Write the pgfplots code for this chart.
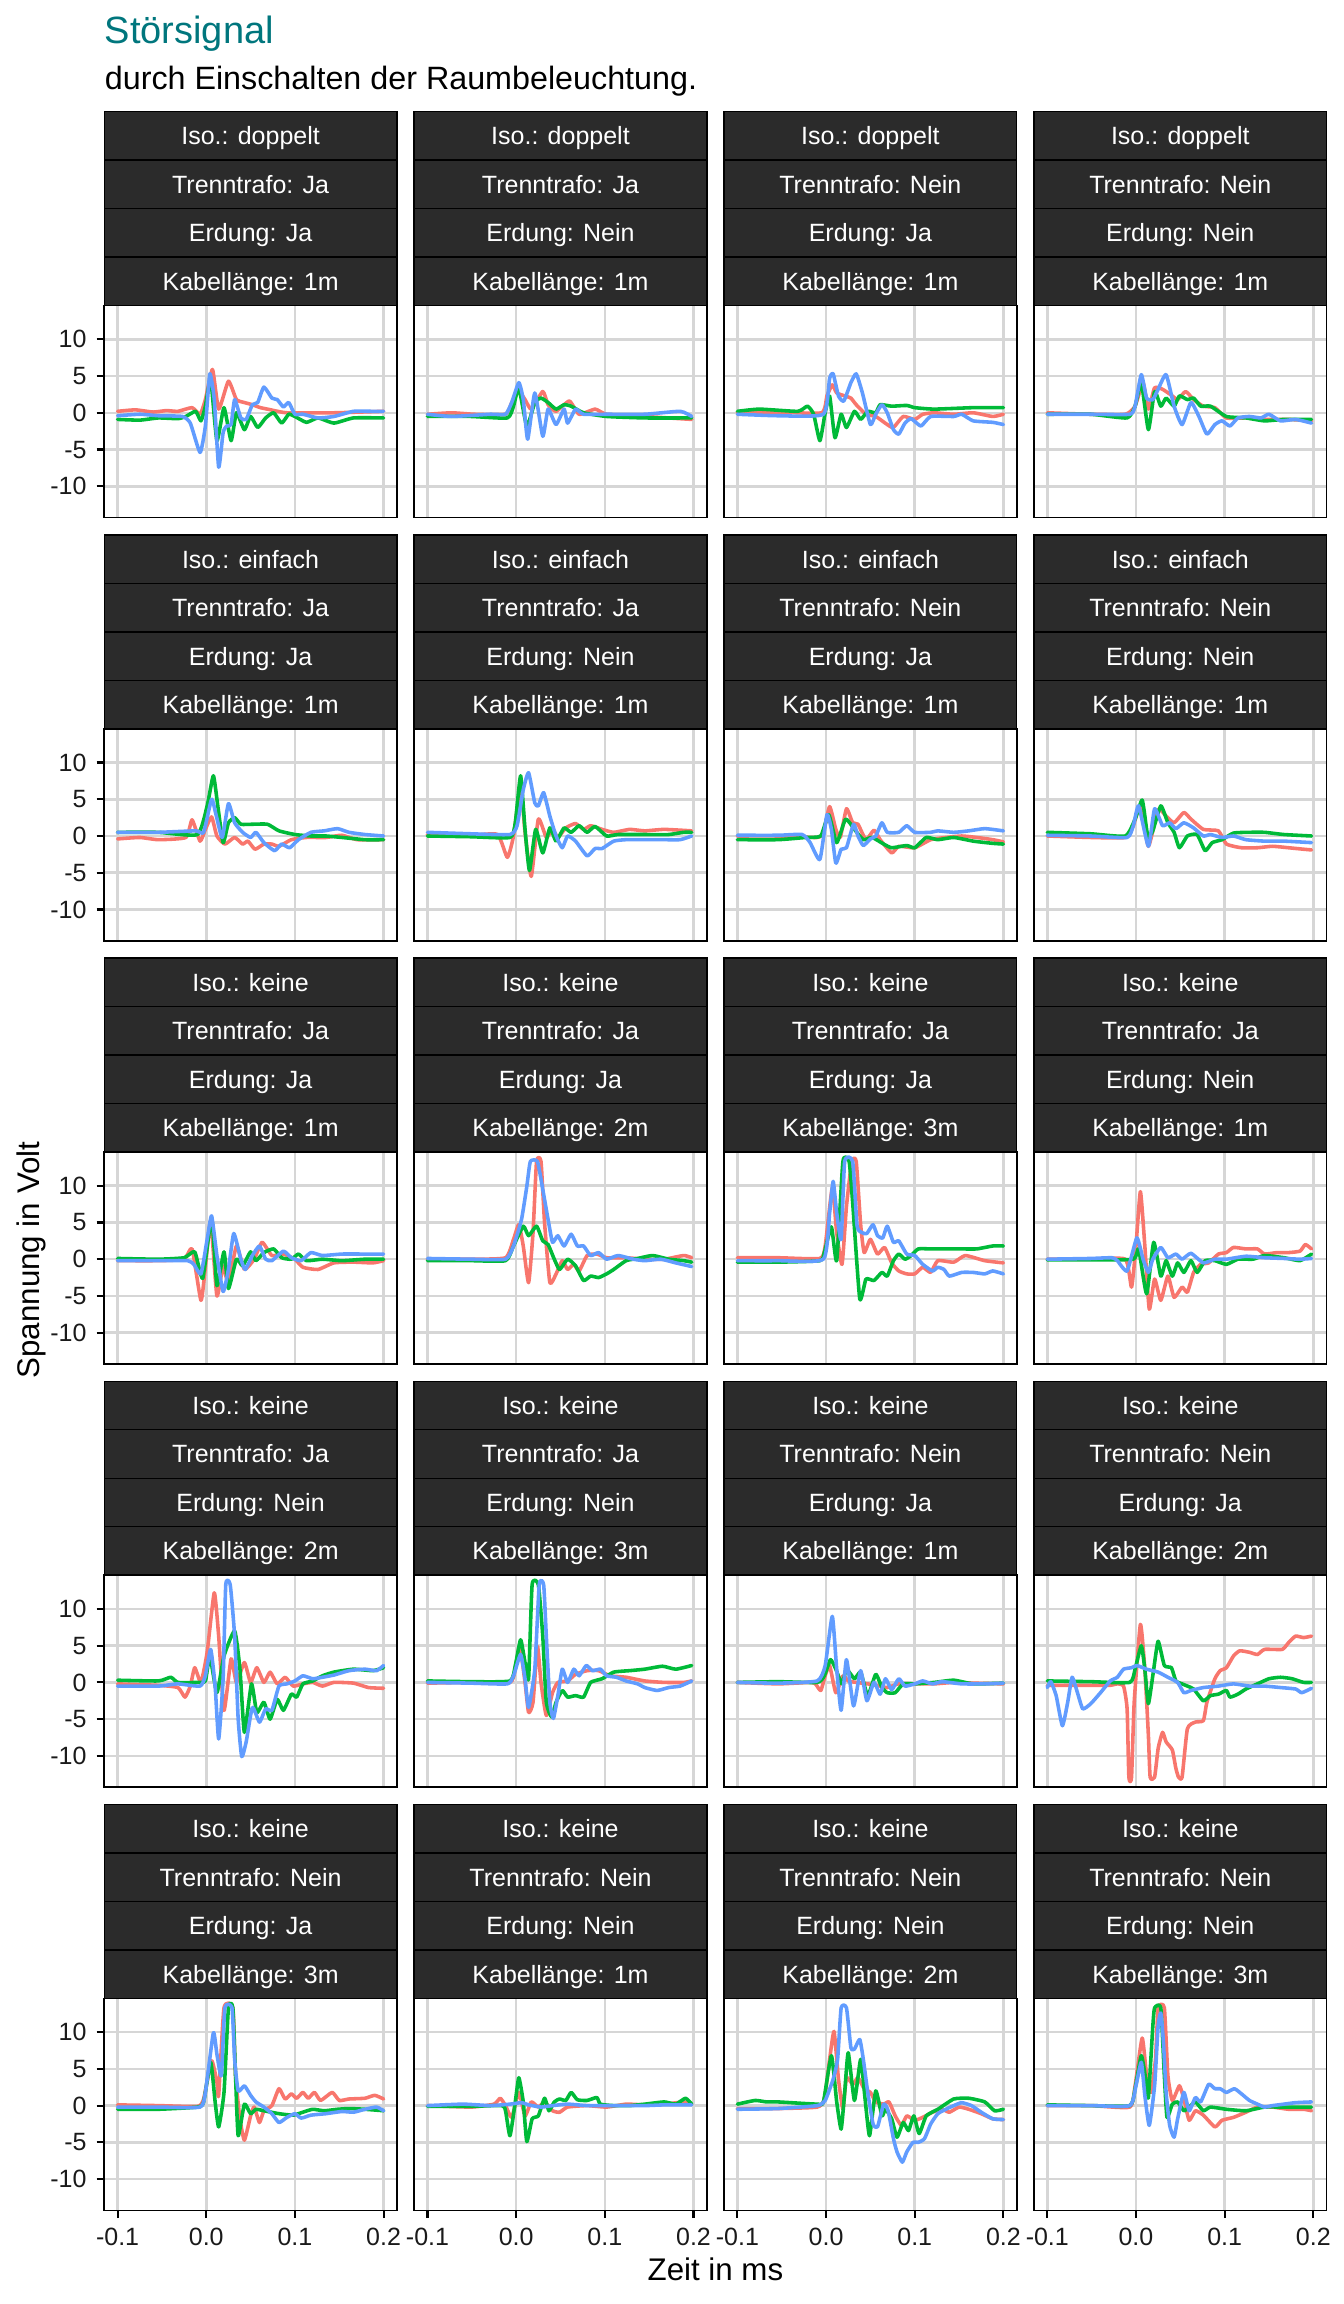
\documentclass[border=0pt]{standalone}
\usepackage{fontspec}
\setmainfont{Liberation Sans}
\usepackage{pgfplots}
\pgfplotsset{compat=1.18}
\definecolor{cr}{HTML}{F8766D}
\definecolor{cg}{HTML}{00BA38}
\definecolor{cb}{HTML}{619CFF}
\definecolor{stripc}{HTML}{2B2B2B}
\definecolor{gridc}{HTML}{D6D6D6}
\definecolor{titlec}{HTML}{00767D}
\definecolor{tickc}{HTML}{1A1A1A}
\pgfplotsset{
 panel/.style={
   scale only axis, width=102.41pt, height=74.2pt, anchor=north west,
   xmin=-0.115, xmax=0.215, ymin=-14.27, ymax=14.59,
   xtick={-0.1,0,0.1,0.2}, ytick={-10,-5,0,5,10},
   xticklabels={}, yticklabels={},
   grid=major, major grid style={line width=0.9pt, draw=gridc},
   axis line style={line width=0.6pt, draw=black},
   tick align=outside, tick pos=left, major tick length=2.7pt,
   tick style={line width=0.75pt, draw=black},
   ticklabel style={font=\fontsize{8.75}{10}\selectfont, text=tickc},
   clip=true,
   every axis plot/.append style={line width=1.25pt, line join=round, line cap=round, mark=none, smooth, tension=0.3},
 },
 nox/.style={xtick style={draw=none}},
 noy/.style={ytick style={draw=none}},
 xl/.style={xticklabels={-0.1,0.0,0.1,0.2}},
 yl/.style={yticklabels={-10,-5,0,5,10}},
}
\newcommand{\strip}[3]{%
  \filldraw[fill=stripc, draw=black, line width=0.5pt] (#1pt,-#2pt) rectangle ++(102.41pt,-16.975pt);
  \node[text=white, font=\fontsize{8.75}{10}\selectfont, inner sep=0pt, text height=6.27pt, text depth=0pt, anchor=center] at ({#1pt+51.205pt},{-#2pt-8.49pt}) {#3};
}
\newcommand{\strips}[6]{%
 \pgfmathsetmacro\sa{#2}\pgfmathsetmacro\sb{#2+16.975}\pgfmathsetmacro\sc{#2+33.95}\pgfmathsetmacro\sd{#2+50.925}%
 \strip{#1}{\sa}{#3}\strip{#1}{\sb}{#4}\strip{#1}{\sc}{#5}\strip{#1}{\sd}{#6}}
\begin{document}
\begin{tikzpicture}
\useasboundingbox (0,0) rectangle (470.4pt,-806.4pt);
\node[anchor=base west, inner sep=0pt, text=titlec, font=\fontsize{13.3}{15}\selectfont] at (36.5pt,-15.2pt) {Störsignal};
\node[anchor=base west, inner sep=0pt, font=\fontsize{11.3}{13}\selectfont] at (36.5pt,-31.3pt) {durch Einschalten der Raumbeleuchtung.};
\node[anchor=base, inner sep=0pt, font=\fontsize{10.95}{13}\selectfont] at (250.4pt,-798pt) {Zeit in ms};
\node[anchor=base, rotate=90, inner sep=0pt, font=\fontsize{10.95}{13}\selectfont] at (13.9pt,-441pt) {Spannung in Volt};

% ---------------- strips ----------------
\strips{36.505}{39.06}{Iso.: doppelt}{Trenntrafo: Ja}{Erdung: Ja}{Kabellänge: 1m}
\strips{144.97}{39.06}{Iso.: doppelt}{Trenntrafo: Ja}{Erdung: Nein}{Kabellänge: 1m}
\strips{253.435}{39.06}{Iso.: doppelt}{Trenntrafo: Nein}{Erdung: Ja}{Kabellänge: 1m}
\strips{361.9}{39.06}{Iso.: doppelt}{Trenntrafo: Nein}{Erdung: Nein}{Kabellänge: 1m}
\strips{36.505}{187.18}{Iso.: einfach}{Trenntrafo: Ja}{Erdung: Ja}{Kabellänge: 1m}
\strips{144.97}{187.18}{Iso.: einfach}{Trenntrafo: Ja}{Erdung: Nein}{Kabellänge: 1m}
\strips{253.435}{187.18}{Iso.: einfach}{Trenntrafo: Nein}{Erdung: Ja}{Kabellänge: 1m}
\strips{361.9}{187.18}{Iso.: einfach}{Trenntrafo: Nein}{Erdung: Nein}{Kabellänge: 1m}
\strips{36.505}{335.3}{Iso.: keine}{Trenntrafo: Ja}{Erdung: Ja}{Kabellänge: 1m}
\strips{144.97}{335.3}{Iso.: keine}{Trenntrafo: Ja}{Erdung: Ja}{Kabellänge: 2m}
\strips{253.435}{335.3}{Iso.: keine}{Trenntrafo: Ja}{Erdung: Ja}{Kabellänge: 3m}
\strips{361.9}{335.3}{Iso.: keine}{Trenntrafo: Ja}{Erdung: Nein}{Kabellänge: 1m}
\strips{36.505}{483.42}{Iso.: keine}{Trenntrafo: Ja}{Erdung: Nein}{Kabellänge: 2m}
\strips{144.97}{483.42}{Iso.: keine}{Trenntrafo: Ja}{Erdung: Nein}{Kabellänge: 3m}
\strips{253.435}{483.42}{Iso.: keine}{Trenntrafo: Nein}{Erdung: Ja}{Kabellänge: 1m}
\strips{361.9}{483.42}{Iso.: keine}{Trenntrafo: Nein}{Erdung: Ja}{Kabellänge: 2m}
\strips{36.505}{631.54}{Iso.: keine}{Trenntrafo: Nein}{Erdung: Ja}{Kabellänge: 3m}
\strips{144.97}{631.54}{Iso.: keine}{Trenntrafo: Nein}{Erdung: Nein}{Kabellänge: 1m}
\strips{253.435}{631.54}{Iso.: keine}{Trenntrafo: Nein}{Erdung: Nein}{Kabellänge: 2m}
\strips{361.9}{631.54}{Iso.: keine}{Trenntrafo: Nein}{Erdung: Nein}{Kabellänge: 3m}

% ================= ROW 1 =================
\begin{axis}[panel, at={(36.505pt,-106.96pt)}, nox, yl]
\addplot[cr] coordinates {(-0.1,0.2) (-0.08,0.4) (-0.06,0.1) (-0.045,0.3) (-0.032,0.2) (-0.016,0.7) (-0.007,-0.2) (-0.001,1.8) (0.007,5.9) (0.014,0.5) (0.025,4.3) (0.034,1.8) (0.043,1.4) (0.052,1.1) (0.061,0.7) (0.069,0.5) (0.091,0) (0.144,0) (0.2,0.2)};
\addplot[cg] coordinates {(-0.1,-0.9) (-0.075,-1.0) (-0.054,-0.7) (-0.032,-0.8) (-0.023,-0.5) (-0.012,0.2) (-0.006,-1.1) (-0.001,0.9) (0.005,4.5) (0.012,-3.8) (0.020,0.7) (0.028,-3.8) (0.034,0) (0.043,-2.3) (0.050,-0.5) (0.058,-2.0) (0.067,-0.7) (0.076,0) (0.085,-1.4) (0.093,-0.2) (0.1,-0.5) (0.113,-1.3) (0.126,-0.7) (0.144,-1.4) (0.166,-0.7) (0.2,-0.7)};
\addplot[cb] coordinates {(-0.1,-0.4) (-0.075,-0.2) (-0.054,-0.4) (-0.027,-0.5) (-0.018,-1.4) (-0.007,-5.4) (-0.001,-1.8) (0.004,5.3) (0.009,1.8) (0.014,-7.4) (0.019,-2.7) (0.023,-1.8) (0.028,-1.6) (0.032,1.8) (0.039,-0.7) (0.045,-0.9) (0.052,1.1) (0.058,1.4) (0.065,3.5) (0.074,2.0) (0.080,1.8) (0.087,0.8) (0.093,1.4) (0.1,-0.2) (0.109,-0.2) (0.126,-0.7) (0.144,-0.5) (0.166,0.2) (0.188,0.2) (0.2,0.2)};
\end{axis}
\begin{axis}[panel, at={(144.97pt,-106.96pt)}, nox, noy]
\addplot[cr] coordinates {(-0.1,-0.2) (-0.073,0) (-0.047,-0.2) (-0.012,-0.2) (-0.005,1.4) (0.003,2.9) (0.010,1.8) (0.017,0.5) (0.030,2.9) (0.036,1.1) (0.045,0.2) (0.060,1.6) (0.071,-0.2) (0.089,0.5) (0.102,-0.2) (0.145,-0.5) (0.198,-0.9)};
\addplot[cg] coordinates {(-0.1,-0.5) (-0.051,-0.5) (-0.010,-0.7) (-0.003,0.9) (0.003,3.4) (0.012,-1.8) (0.021,1.4) (0.028,2.0) (0.036,1.4) (0.045,0.5) (0.054,1.1) (0.062,0.9) (0.076,0) (0.102,-0.5) (0.145,-0.7) (0.198,-0.7)};
\addplot[cb] coordinates {(-0.1,-0.2) (-0.073,-0.5) (-0.029,-0.2) (-0.012,-0.2) (-0.005,1.4) (0.003,4.1) (0.008,1.8) (0.013,-3.6) (0.021,2.7) (0.030,-3.2) (0.036,0.5) (0.045,-1.6) (0.054,0.5) (0.058,-1.4) (0.067,0.5) (0.076,-0.2) (0.102,-0.2) (0.145,-0.2) (0.185,0.2) (0.198,-0.5)};
\end{axis}
\begin{axis}[panel, at={(253.435pt,-106.96pt)}, nox, noy]
\addplot[cr] coordinates {(-0.1,0) (-0.054,0.1) (-0.005,0) (0.001,2.3) (0.007,3.8) (0.012,2.7) (0.021,2.3) (0.028,2.0) (0.034,1.1) (0.045,-0.2) (0.056,-0.5) (0.069,-1.6) (0.076,-2.0) (0.087,-0.5) (0.1,-0.9) (0.109,-0.2) (0.122,0) (0.144,-0.2) (0.166,0) (0.188,-0.5) (0.2,-0.2)};
\addplot[cg] coordinates {(-0.1,0.2) (-0.075,0.5) (-0.032,0.2) (-0.021,0.9) (-0.014,-0.2) (-0.007,-3.8) (-0.001,0) (0.004,2.3) (0.010,-3.4) (0.017,-0.2) (0.023,-2.0) (0.032,0.2) (0.039,-0.9) (0.047,0.2) (0.056,0) (0.061,1.1) (0.074,0.9) (0.091,1.0) (0.1,0.7) (0.122,0.5) (0.166,0.7) (0.2,0.7)};
\addplot[cb] coordinates {(-0.1,-0.2) (-0.054,-0.4) (-0.003,-0.2) (0.004,4.7) (0.008,5.3) (0.014,2.3) (0.020,1.6) (0.028,4.1) (0.034,5.3) (0.041,2.7) (0.050,-1.6) (0.056,-0.2) (0.063,1.1) (0.069,0) (0.076,-2.3) (0.082,-2.9) (0.089,-1.4) (0.096,-0.8) (0.107,-1.8) (0.118,-0.5) (0.144,-0.5) (0.153,-0.2) (0.166,-1.1) (0.188,-1.3) (0.2,-1.6)};
\end{axis}
\begin{axis}[panel, at={(361.9pt,-106.96pt)}, nox, noy]
\addplot[cr] coordinates {(-0.1,0) (-0.051,-0.2) (-0.012,-0.2) (-0.001,0.9) (0.008,4.1) (0.014,0.5) (0.021,3.4) (0.030,3.2) (0.041,2.3) (0.047,1.8) (0.056,2.9) (0.065,1.8) (0.076,0.9) (0.089,0.7) (0.102,-0.7) (0.124,-0.7) (0.145,-0.9) (0.172,-0.9) (0.198,-1.1)};
\addplot[cg] coordinates {(-0.1,-0.2) (-0.051,-0.2) (-0.010,-0.7) (-0.001,0.9) (0.006,4.1) (0.014,-2.3) (0.021,2.9) (0.028,0.9) (0.034,2.0) (0.043,0.9) (0.049,2.3) (0.058,1.8) (0.065,2.0) (0.073,0.9) (0.084,0.9) (0.102,-0.5) (0.124,-0.7) (0.145,-1.1) (0.167,-0.9) (0.198,-0.9)};
\addplot[cb] coordinates {(-0.1,-0.2) (-0.051,-0.2) (-0.007,-0.2) (-0.001,0.9) (0.006,5.2) (0.012,2.0) (0.019,1.8) (0.025,3.2) (0.034,5.2) (0.043,0.9) (0.052,-1.6) (0.062,1.4) (0.071,-0.5) (0.080,-2.9) (0.089,-1.6) (0.097,-1.1) (0.106,-1.8) (0.115,-0.7) (0.128,-0.5) (0.141,-0.7) (0.150,-0.2) (0.163,-1.1) (0.180,-0.9) (0.198,-1.4)};
\end{axis}

% ================= ROW 2 =================
\begin{axis}[panel, at={(36.505pt,-255.08pt)}, nox, yl]
\addplot[cr] coordinates {(-0.1,-0.4) (-0.075,-0.2) (-0.054,-0.5) (-0.023,-0.2) (-0.016,2.2) (-0.007,-0.7) (-0.001,0.9) (0.006,2.6) (0.012,0) (0.021,-1.1) (0.032,-0.2) (0.041,-1.1) (0.047,-0.7) (0.055,-1.8) (0.065,-1.1) (0.074,-1.1) (0.082,-1.4) (0.096,-0.5) (0.113,-0.2) (0.135,-0.2) (0.153,0.1) (0.170,-0.5) (0.2,-0.5)};
\addplot[cg] coordinates {(-0.1,0.5) (-0.054,0.5) (-0.010,0.2) (0.001,4.1) (0.008,8.2) (0.013,4.1) (0.019,-0.9) (0.025,1.8) (0.032,2.5) (0.039,1.6) (0.052,1.6) (0.069,1.6) (0.082,0.7) (0.1,0.2) (0.118,0) (0.135,0) (0.153,-0.2) (0.179,-0.5) (0.2,-0.5)};
\addplot[cb] coordinates {(-0.1,0.5) (-0.054,0.5) (-0.012,0.7) (-0.003,0.5) (0.006,5.0) (0.011,2.9) (0.018,-0.2) (0.025,4.4) (0.032,1.8) (0.041,0.5) (0.050,-0.2) (0.056,0.5) (0.065,-0.9) (0.077,-2.0) (0.085,-1.1) (0.094,-1.6) (0.104,-0.5) (0.118,0.5) (0.133,0.7) (0.148,1.0) (0.161,0.5) (0.179,0.2) (0.2,0)};
\end{axis}
\begin{axis}[panel, at={(144.97pt,-255.08pt)}, nox, noy]
\addplot[cr] coordinates {(-0.1,0.2) (-0.051,0.1) (-0.021,0.2) (-0.010,-2.9) (-0.003,0) (0.005,6.8) (0.010,0.5) (0.017,-5.5) (0.025,2.3) (0.034,-0.2) (0.041,0.9) (0.047,-0.2) (0.056,1.1) (0.067,1.7) (0.076,0.9) (0.084,1.4) (0.097,0.9) (0.110,0.5) (0.128,0.9) (0.145,0.7) (0.167,0.9) (0.198,0.7)};
\addplot[cg] coordinates {(-0.1,0) (-0.051,-0.1) (-0.007,-0.2) (-0.001,1.8) (0.005,8.2) (0.010,0.9) (0.015,-4.7) (0.022,0.9) (0.030,-2.3) (0.038,1.1) (0.045,-0.7) (0.054,1.1) (0.062,0.5) (0.071,1.4) (0.080,0.5) (0.089,1.3) (0.102,0) (0.115,0.2) (0.145,0.2) (0.172,0.2) (0.189,0.5) (0.198,0.5)};
\addplot[cb] coordinates {(-0.1,0.5) (-0.051,0.3) (-0.007,0.2) (0.001,1.4) (0.008,6.3) (0.014,8.6) (0.021,4.5) (0.025,4.1) (0.031,5.9) (0.038,2.7) (0.045,0) (0.052,-1.6) (0.058,0) (0.067,-0.7) (0.080,-2.7) (0.089,-1.7) (0.097,-1.7) (0.110,-0.7) (0.124,-0.5) (0.145,-0.5) (0.167,-0.5) (0.185,-0.5) (0.198,0)};
\end{axis}
\begin{axis}[panel, at={(253.435pt,-255.08pt)}, nox, noy]
\addplot[cr] coordinates {(-0.1,0) (-0.054,0) (-0.010,-0.2) (-0.003,0.5) (0.004,4.0) (0.011,0.9) (0.016,-0.2) (0.023,3.7) (0.030,1.8) (0.036,1.6) (0.045,-0.5) (0.054,0.8) (0.061,-0.5) (0.074,-2.3) (0.082,-1.4) (0.1,-1.6) (0.118,-0.5) (0.135,-0.2) (0.153,0) (0.170,-0.2) (0.188,-0.5) (0.2,-0.8)};
\addplot[cg] coordinates {(-0.1,-0.5) (-0.054,-0.5) (-0.023,-0.2) (-0.006,0) (0.003,2.9) (0.012,-0.9) (0.022,2.3) (0.032,0.9) (0.042,-0.5) (0.052,-0.2) (0.065,-1.1) (0.074,-1.6) (0.091,-1.3) (0.1,-1.6) (0.113,-0.2) (0.126,-0.5) (0.144,-0.2) (0.166,-0.7) (0.188,-1.0) (0.2,-1.1)};
\addplot[cb] coordinates {(-0.1,0.1) (-0.054,0.1) (-0.027,0.2) (-0.018,-0.9) (-0.007,-3.2) (0.001,2.9) (0.006,0.9) (0.011,-3.7) (0.017,-1.8) (0.023,-1.6) (0.031,1.6) (0.036,0) (0.042,-1.3) (0.050,-0.4) (0.056,0) (0.063,1.8) (0.069,0.5) (0.082,0.5) (0.091,1.4) (0.1,0.5) (0.118,0.5) (0.126,0.7) (0.144,0.5) (0.161,0.7) (0.179,1.0) (0.2,0.7)};
\end{axis}
\begin{axis}[panel, at={(361.9pt,-255.08pt)}, nox, noy]
\addplot[cr] coordinates {(-0.1,0) (-0.051,-0.2) (-0.012,-0.2) (-0.003,1.4) (0.005,4.1) (0.014,-1.4) (0.025,3.6) (0.034,2.7) (0.043,1.8) (0.054,3.2) (0.062,2.3) (0.076,0.9) (0.093,0.7) (0.102,-1.1) (0.119,-1.6) (0.137,-1.6) (0.154,-1.4) (0.172,-1.6) (0.189,-1.8) (0.198,-1.9)};
\addplot[cg] coordinates {(-0.1,0.5) (-0.051,0.3) (-0.012,0) (-0.001,2.3) (0.007,4.9) (0.012,0.9) (0.014,-0.2) (0.019,0.7) (0.028,4.1) (0.036,1.8) (0.043,0.5) (0.049,-1.6) (0.058,0) (0.069,0.2) (0.078,-2.0) (0.086,-0.9) (0.097,-0.5) (0.110,0.4) (0.128,0.5) (0.145,0.5) (0.167,0.2) (0.198,0)};
\addplot[cb] coordinates {(-0.1,0.1) (-0.051,0) (-0.010,-0.2) (-0.003,1.4) (0.003,4.1) (0.014,-1.4) (0.021,3.7) (0.030,1.4) (0.038,1.8) (0.045,1.0) (0.054,1.8) (0.065,1.1) (0.076,0) (0.084,0.2) (0.097,-0.2) (0.110,0) (0.124,-0.5) (0.145,-0.7) (0.167,-0.7) (0.198,-0.9)};
\end{axis}

% ================= ROW 3 =================
\begin{axis}[panel, at={(36.505pt,-403.2pt)}, nox, yl]
\addplot[cr] coordinates {(-0.1,-0.2) (-0.054,-0.2) (-0.025,0) (-0.016,1.4) (-0.006,-5.6) (-0.001,-1.1) (0.005,5.2) (0.012,-5.0) (0.019,-0.9) (0.025,-3.4) (0.034,1.8) (0.043,-1.4) (0.054,0) (0.063,2.3) (0.074,0.5) (0.087,0.7) (0.1,0) (0.109,-1.1) (0.126,-1.4) (0.144,-0.5) (0.166,-0.4) (0.188,-0.5) (0.2,-0.2)};
\addplot[cg] coordinates {(-0.1,0.1) (-0.054,0) (-0.025,0.2) (-0.013,1.0) (-0.004,-2.6) (0.006,5.6) (0.012,-3.6) (0.020,1.0) (0.025,-4.0) (0.034,0) (0.041,-0.9) (0.050,1.0) (0.056,-0.2) (0.065,0.9) (0.076,1.4) (0.085,0.2) (0.096,0) (0.104,0.7) (0.113,-0.2) (0.131,0) (0.153,-0.2) (0.179,0) (0.2,0)};
\addplot[cb] coordinates {(-0.1,-0.2) (-0.054,-0.2) (-0.021,-0.2) (-0.014,-0.7) (-0.006,-2.0) (0.001,2.7) (0.006,5.9) (0.012,0.5) (0.019,-4.4) (0.025,-1.4) (0.031,3.5) (0.039,0) (0.044,-1.4) (0.052,0.5) (0.060,1.8) (0.067,0) (0.074,-0.2) (0.087,1.1) (0.096,0.2) (0.107,-0.2) (0.118,0.9) (0.131,0.5) (0.153,0.7) (0.179,0.7) (0.2,0.7)};
\end{axis}
\begin{axis}[panel, at={(144.97pt,-403.2pt)}, nox, noy]
\addplot[cr] coordinates {(-0.1,0) (-0.051,0) (-0.012,0.2) (-0.003,2.7) (0.003,4.7) (0.008,1.8) (0.014,-3.2) (0.019,3.6) (0.023,13.3) (0.028,13.3) (0.032,5.0) (0.038,-3.2) (0.045,-2.0) (0.052,-0.2) (0.058,-1.4) (0.065,-0.7) (0.071,-1.6) (0.080,0.5) (0.091,0.7) (0.102,0.2) (0.124,0.2) (0.145,0) (0.167,0) (0.189,0.5) (0.198,0.2)};
\addplot[cg] coordinates {(-0.1,-0.2) (-0.051,-0.2) (-0.012,-0.2) (-0.003,1.8) (0.008,4.5) (0.014,3.2) (0.023,4.5) (0.030,2.5) (0.036,2.0) (0.043,0) (0.049,-1.4) (0.058,0) (0.067,-0.9) (0.076,-2.9) (0.084,-2.3) (0.093,-2.5) (0.102,-2.0) (0.110,-1.4) (0.124,-0.2) (0.137,0.1) (0.154,0.5) (0.172,0) (0.189,-0.2) (0.198,-0.4)};
\addplot[cb] coordinates {(-0.1,0.1) (-0.051,0) (-0.012,0) (-0.003,1.8) (0.006,5.4) (0.012,9.9) (0.016,13.3) (0.024,13.3) (0.030,9.5) (0.036,5.4) (0.041,2.3) (0.047,3.2) (0.054,1.8) (0.062,3.4) (0.069,1.8) (0.076,1.8) (0.084,0.5) (0.093,0.9) (0.102,0) (0.115,0.5) (0.132,0) (0.145,-0.2) (0.163,0) (0.180,-0.5) (0.198,-1.0)};
\end{axis}
\begin{axis}[panel, at={(253.435pt,-403.2pt)}, nox, noy]
\addplot[cr] coordinates {(-0.1,0.2) (-0.054,0.2) (-0.007,0.1) (-0.001,1.8) (0.007,9.7) (0.012,3.6) (0.018,-0.7) (0.023,7.2) (0.029,13.3) (0.034,13.3) (0.039,4.7) (0.043,0.9) (0.050,2.7) (0.058,0.7) (0.066,1.6) (0.074,-0.5) (0.082,-1.6) (0.091,-2.0) (0.1,-2.0) (0.109,-1.1) (0.118,-1.8) (0.126,-0.2) (0.144,-0.4) (0.157,0.5) (0.179,-0.2) (0.2,-0.5)};
\addplot[cg] coordinates {(-0.1,-0.4) (-0.054,-0.4) (-0.007,-0.2) (-0.002,0.9) (0.006,4.4) (0.012,-0.2) (0.019,13.3) (0.026,13.3) (0.030,7.7) (0.038,-5.4) (0.045,-2.7) (0.054,-2.9) (0.063,-1.8) (0.069,-2.3) (0.076,-0.2) (0.082,0.7) (0.089,0) (0.096,0.5) (0.104,1.4) (0.118,1.4) (0.135,1.4) (0.153,1.4) (0.170,1.4) (0.188,1.8) (0.2,1.8)};
\addplot[cb] coordinates {(-0.1,-0.2) (-0.054,-0.2) (-0.003,0) (0.004,6.3) (0.008,10.6) (0.012,6.3) (0.017,2.7) (0.021,13.3) (0.030,13.3) (0.035,4.5) (0.041,3.6) (0.046,3.5) (0.053,4.7) (0.058,3.2) (0.064,2.9) (0.069,4.5) (0.076,2.3) (0.082,2.5) (0.091,0.7) (0.1,0.5) (0.109,-0.7) (0.120,-1.6) (0.126,-1.1) (0.133,-1.4) (0.139,-2.3) (0.153,-1.8) (0.166,-1.8) (0.179,-2.0) (0.188,-1.6) (0.2,-2.0)};
\end{axis}
\begin{axis}[panel, at={(361.9pt,-403.2pt)}, nox, noy]
\addplot[cr] coordinates {(-0.1,0) (-0.051,0) (-0.012,0) (-0.005,-3.8) (0.0,1.8) (0.005,9.2) (0.010,1.8) (0.015,-6.8) (0.021,-2.7) (0.028,-5.6) (0.036,-2.3) (0.043,-5.2) (0.052,-3.8) (0.058,-4.5) (0.065,-1.8) (0.073,-0.7) (0.082,-0.5) (0.093,0.7) (0.102,0.9) (0.110,1.6) (0.124,1.4) (0.137,1.4) (0.145,0.7) (0.159,0.9) (0.172,0.9) (0.185,1.1) (0.191,2.0) (0.198,1.4)};
\addplot[cg] coordinates {(-0.1,-0.1) (-0.051,-0.1) (-0.003,0) (0.003,1.4) (0.012,-4.7) (0.020,2.3) (0.028,-2.3) (0.034,-0.2) (0.041,-2.3) (0.047,-0.5) (0.054,-1.8) (0.062,-0.2) (0.069,-1.8) (0.078,-0.2) (0.089,-0.2) (0.102,-0.7) (0.115,0) (0.132,0) (0.145,0.5) (0.167,0.2) (0.185,-0.2) (0.198,0.7)};
\addplot[cb] coordinates {(-0.1,0) (-0.051,0.1) (-0.027,0.2) (-0.021,-0.2) (-0.010,-1.6) (0.001,2.9) (0.008,0) (0.014,-1.8) (0.019,0) (0.028,1.6) (0.036,0.2) (0.045,0.7) (0.052,0) (0.062,0.8) (0.076,-0.5) (0.089,0) (0.102,0) (0.124,0.4) (0.145,0.2) (0.167,0.1) (0.185,0) (0.198,0.1)};
\end{axis}

% ================= ROW 4 =================
\begin{axis}[panel, at={(36.505pt,-551.32pt)}, nox, yl]
\addplot[cr] coordinates {(-0.1,-0.2) (-0.054,-0.4) (-0.032,-0.7) (-0.024,-2.0) (-0.018,-0.5) (-0.013,2.0) (-0.006,0) (0.001,4.1) (0.009,12.2) (0.014,6.3) (0.020,-3.8) (0.028,3.2) (0.034,0) (0.043,2.7) (0.050,0) (0.057,2.0) (0.065,0) (0.072,1.4) (0.080,-0.2) (0.089,0.7) (0.098,-0.5) (0.109,-0.2) (0.120,0) (0.131,-0.5) (0.144,0) (0.166,-0.1) (0.183,-0.7) (0.2,-0.8)};
\addplot[cg] coordinates {(-0.1,0.3) (-0.054,0.2) (-0.040,0.7) (-0.032,0) (-0.010,0) (-0.001,0.2) (0.004,3.6) (0.012,-1.4) (0.020,3.6) (0.032,7.0) (0.038,1.8) (0.043,-6.8) (0.051,-0.2) (0.057,-4.1) (0.065,-2.7) (0.072,-5.0) (0.080,-2.3) (0.087,-3.8) (0.096,-1.6) (0.102,-2.0) (0.109,-0.2) (0.120,0.2) (0.131,0.9) (0.144,1.4) (0.166,1.8) (0.188,1.6) (0.2,2.0)};
\addplot[cb] coordinates {(-0.1,-0.5) (-0.054,-0.5) (-0.032,-0.2) (-0.007,-0.5) (-0.001,0.9) (0.005,4.5) (0.010,-0.5) (0.014,-7.7) (0.019,0.5) (0.022,13.3) (0.027,13.3) (0.032,6.3) (0.036,-5.0) (0.040,-10.1) (0.045,-8.1) (0.052,-3.4) (0.060,-5.4) (0.067,-3.6) (0.074,-3.8) (0.082,-0.5) (0.091,-0.2) (0.1,0.2) (0.109,0.9) (0.120,0.5) (0.131,0.7) (0.144,1.0) (0.161,1.6) (0.179,1.8) (0.192,1.6) (0.2,2.3)};
\end{axis}
\begin{axis}[panel, at={(144.97pt,-551.32pt)}, nox, noy]
\addplot[cr] coordinates {(-0.1,-0.1) (-0.051,0) (-0.007,0) (-0.001,1.8) (0.004,5.0) (0.010,0) (0.014,-4.1) (0.019,-2.7) (0.024,4.9) (0.028,0) (0.034,-4.5) (0.041,-1.4) (0.047,0) (0.058,0.2) (0.067,1.1) (0.080,1.6) (0.093,1.6) (0.106,0.9) (0.124,0.7) (0.145,0.2) (0.167,0) (0.189,0) (0.198,0.2)};
\addplot[cg] coordinates {(-0.1,0.2) (-0.051,0.1) (-0.007,0.2) (-0.001,2.3) (0.005,5.8) (0.010,2.7) (0.014,0.5) (0.018,13.3) (0.025,13.3) (0.030,6.3) (0.034,-2.7) (0.040,-4.7) (0.045,-2.7) (0.052,-1.1) (0.058,-2.0) (0.067,-1.8) (0.076,-2.0) (0.084,0) (0.097,0.5) (0.110,1.4) (0.128,1.6) (0.145,1.8) (0.165,2.2) (0.180,1.8) (0.198,2.3)};
\addplot[cb] coordinates {(-0.1,0) (-0.051,-0.1) (-0.010,-0.2) (-0.003,0.9) (0.005,3.8) (0.010,0.5) (0.014,-3.4) (0.021,1.8) (0.026,13.3) (0.031,13.3) (0.034,6.3) (0.038,-2.7) (0.042,-4.9) (0.047,-1.8) (0.052,1.8) (0.058,0) (0.065,1.8) (0.071,0.9) (0.079,2.3) (0.086,1.6) (0.095,1.8) (0.102,0.9) (0.113,0.7) (0.124,0.2) (0.137,-0.2) (0.145,-0.7) (0.159,-1.1) (0.172,-0.7) (0.185,-0.5) (0.198,0.2)};
\end{axis}
\begin{axis}[panel, at={(253.435pt,-551.32pt)}, nox, noy]
\addplot[cr] coordinates {(-0.1,0) (-0.054,-0.2) (-0.018,0) (-0.012,-0.2) (-0.006,-1.1) (-0.001,0.9) (0.004,2.3) (0.011,-1.4) (0.019,0.9) (0.025,0.2) (0.034,0) (0.047,-0.2) (0.061,-0.5) (0.069,-0.7) (0.082,-0.2) (0.1,-0.2) (0.122,-0.2) (0.144,0) (0.166,-0.1) (0.2,-0.2)};
\addplot[cg] coordinates {(-0.1,0) (-0.054,0.1) (-0.010,0) (-0.002,0.9) (0.005,3.1) (0.011,1.8) (0.018,-0.2) (0.023,1.8) (0.032,0.5) (0.039,1.4) (0.047,-1.8) (0.056,1.1) (0.063,-0.7) (0.069,-1.4) (0.078,-1.4) (0.087,-0.2) (0.1,-0.2) (0.122,0) (0.144,0.3) (0.166,-0.2) (0.2,-0.1)};
\addplot[cb] coordinates {(-0.1,0) (-0.054,-0.1) (-0.010,0.2) (-0.001,2.3) (0.007,9.0) (0.012,1.8) (0.017,-3.8) (0.023,3.1) (0.031,-3.2) (0.039,1.6) (0.046,-2.5) (0.054,0) (0.061,-1.6) (0.067,0.5) (0.074,-1.0) (0.082,0.5) (0.089,-0.5) (0.1,-0.2) (0.109,0.2) (0.120,-0.2) (0.131,0.1) (0.153,-0.2) (0.179,-0.2) (0.2,-0.1)};
\end{axis}
\begin{axis}[panel, at={(361.9pt,-551.32pt)}, nox, noy]
\addplot[cr] coordinates {(-0.1,-0.4) (-0.051,-0.4) (-0.029,-0.4) (-0.021,-0.2) (-0.014,-0.5) (-0.010,-3.6) (-0.008,-12.9) (-0.005,-12.9) (-0.002,-2.7) (0.005,7.9) (0.010,1.8) (0.014,-7.2) (0.016,-12.9) (0.021,-12.9) (0.025,-9.0) (0.030,-6.8) (0.034,-8.1) (0.041,-9.2) (0.045,-11.7) (0.048,-12.9) (0.052,-12.9) (0.058,-6.3) (0.067,-5.4) (0.076,-5.2) (0.080,-2.7) (0.089,0.5) (0.095,1.6) (0.102,2.0) (0.110,3.6) (0.117,4.3) (0.128,4.1) (0.137,3.8) (0.145,4.5) (0.165,4.5) (0.172,5.4) (0.180,6.3) (0.189,6.1) (0.198,6.3)};
\addplot[cg] coordinates {(-0.1,0.2) (-0.051,0.1) (-0.007,0) (-0.001,1.8) (0.006,5.0) (0.010,1.8) (0.014,-2.9) (0.020,1.8) (0.025,5.6) (0.032,2.3) (0.040,2.0) (0.045,0.2) (0.052,-0.2) (0.058,-0.5) (0.065,-0.9) (0.076,-2.5) (0.084,-1.8) (0.093,-1.6) (0.102,-1.1) (0.106,-2.0) (0.115,-1.6) (0.124,-0.9) (0.137,-0.2) (0.150,0.5) (0.163,0.7) (0.176,0.5) (0.189,0) (0.198,0)};
\addplot[cb] coordinates {(-0.1,-0.7) (-0.096,0.1) (-0.090,-1.8) (-0.083,-5.9) (-0.077,-2.7) (-0.072,0.7) (-0.066,-1.4) (-0.060,-3.6) (-0.051,-2.9) (-0.040,-1.4) (-0.029,0.2) (-0.021,0.7) (-0.014,1.8) (-0.005,2.0) (0.001,2.3) (0.012,1.8) (0.025,1.4) (0.036,0.7) (0.047,0) (0.054,-1.4) (0.062,-1.1) (0.076,-0.7) (0.093,-0.5) (0.110,-0.2) (0.128,-0.5) (0.145,-0.5) (0.163,-0.7) (0.180,-0.9) (0.187,-1.4) (0.198,-0.8)};
\end{axis}

% ================= ROW 5 =================
\begin{axis}[panel, at={(36.505pt,-699.44pt)}, xl, yl]
\addplot[cr] coordinates {(-0.1,0.1) (-0.054,0) (-0.010,-0.1) (-0.003,0.9) (0.006,6.1) (0.012,3.2) (0.014,1.4) (0.020,13.3) (0.030,13.3) (0.033,4.1) (0.038,-1.8) (0.043,-4.7) (0.050,-1.4) (0.054,-0.2) (0.060,-2.3) (0.065,-0.7) (0.074,0) (0.082,2.3) (0.089,0.9) (0.096,1.6) (0.102,1.0) (0.109,1.8) (0.115,1.0) (0.122,1.8) (0.129,0.7) (0.142,1.8) (0.150,0.7) (0.161,0.9) (0.179,1.0) (0.190,1.4) (0.2,0.9)};
\addplot[cg] coordinates {(-0.1,-0.5) (-0.054,-0.5) (-0.010,-0.2) (-0.003,0.5) (0.005,5.9) (0.010,0.5) (0.014,-2.9) (0.020,1.8) (0.025,13.3) (0.030,13.3) (0.033,4.1) (0.036,-4.1) (0.043,0.2) (0.050,-1.1) (0.056,-0.5) (0.065,-0.7) (0.082,-1.1) (0.098,-1.3) (0.109,-0.9) (0.120,-0.5) (0.133,-0.7) (0.148,-0.5) (0.161,-0.4) (0.179,-0.5) (0.2,-0.7)};
\addplot[cb] coordinates {(-0.1,-0.2) (-0.054,-0.2) (-0.007,-0.2) (-0.001,1.8) (0.008,9.9) (0.012,7.0) (0.017,4.1) (0.021,13.3) (0.029,13.3) (0.032,6.3) (0.036,2.0) (0.043,2.7) (0.050,1.4) (0.056,0.5) (0.065,-0.2) (0.074,-1.1) (0.082,-2.3) (0.091,-1.6) (0.1,-1.1) (0.107,-1.7) (0.118,-1.3) (0.135,-1.1) (0.153,-0.8) (0.166,-0.9) (0.179,-0.5) (0.192,-0.2) (0.2,-0.7)};
\end{axis}
\begin{axis}[panel, at={(144.97pt,-699.44pt)}, xl, noy]
\addplot[cr] coordinates {(-0.1,0) (-0.051,-0.2) (-0.025,0.2) (-0.018,1.0) (-0.012,0) (-0.005,-1.6) (0.003,1.8) (0.010,-1.4) (0.017,0.5) (0.025,-0.2) (0.032,0.5) (0.041,-0.7) (0.049,-0.9) (0.058,-0.2) (0.080,0) (0.102,-0.2) (0.124,0.2) (0.145,0.1) (0.167,0.2) (0.189,0.5) (0.198,0.2)};
\addplot[cg] coordinates {(-0.1,-0.1) (-0.051,-0.1) (-0.016,0) (-0.012,-0.7) (-0.007,-4.1) (-0.001,0.5) (0.003,3.8) (0.008,0.5) (0.012,-4.9) (0.018,-1.8) (0.025,-1.4) (0.032,1.0) (0.037,-0.7) (0.043,0.5) (0.049,0.9) (0.056,0.7) (0.062,1.8) (0.069,0.8) (0.080,0.7) (0.091,1.1) (0.095,0.2) (0.110,0) (0.128,0) (0.145,0.2) (0.167,0.5) (0.180,0.2) (0.191,1.0) (0.198,0.2)};
\addplot[cb] coordinates {(-0.1,0) (-0.060,0.2) (-0.029,0) (-0.007,0.2) (0.006,0.4) (0.014,0.1) (0.028,-0.2) (0.041,0) (0.058,0.2) (0.080,0) (0.102,0) (0.145,0) (0.167,0.1) (0.198,0.1)};
\end{axis}
\begin{axis}[panel, at={(253.435pt,-699.44pt)}, xl, noy]
\addplot[cr] coordinates {(-0.1,-0.4) (-0.054,-0.4) (-0.010,-0.2) (-0.002,0.9) (0.004,6.3) (0.009,10.1) (0.014,3.6) (0.019,-0.5) (0.023,3.8) (0.030,2.9) (0.036,3.8) (0.043,2.3) (0.050,1.8) (0.056,0.5) (0.065,0.2) (0.071,0.5) (0.078,-1.4) (0.085,-2.7) (0.091,-1.4) (0.1,-2.0) (0.109,-1.6) (0.120,-0.9) (0.131,-0.5) (0.139,-0.9) (0.150,-0.2) (0.161,-0.5) (0.175,-1.1) (0.188,-1.8) (0.2,-1.9)};
\addplot[cg] coordinates {(-0.1,0.2) (-0.080,0.7) (-0.067,0.5) (-0.054,0.5) (-0.010,0.2) (-0.003,0.5) (0.006,6.8) (0.012,0.5) (0.017,-3.2) (0.021,1.8) (0.025,7.2) (0.032,0.7) (0.039,6.3) (0.044,0.9) (0.049,-4.1) (0.056,2.0) (0.063,-1.4) (0.067,-0.5) (0.074,-1.8) (0.080,-4.3) (0.087,-2.3) (0.093,-3.4) (0.099,-1.4) (0.105,-3.8) (0.113,-1.4) (0.126,-0.5) (0.144,0.9) (0.161,1.0) (0.179,0.5) (0.190,-0.7) (0.2,-0.5)};
\addplot[cb] coordinates {(-0.1,-0.5) (-0.054,-0.4) (-0.010,0) (-0.001,0.7) (0.008,3.6) (0.013,6.3) (0.017,13.3) (0.023,13.3) (0.028,7.9) (0.032,7.7) (0.038,9.0) (0.042,6.3) (0.047,1.8) (0.053,-2.5) (0.058,-2.9) (0.065,0.2) (0.070,-0.7) (0.076,-4.5) (0.080,-6.3) (0.086,-7.7) (0.091,-6.3) (0.098,-5.0) (0.104,-5.0) (0.111,-4.5) (0.118,-2.5) (0.126,-1.1) (0.135,-0.5) (0.144,0) (0.153,0.4) (0.164,0) (0.175,-0.9) (0.188,-1.8) (0.2,-1.9)};
\end{axis}
\begin{axis}[panel, at={(361.9pt,-699.44pt)}, xl, noy]
\addplot[cr] coordinates {(-0.1,0) (-0.051,0) (-0.007,-0.2) (-0.001,2.7) (0.007,9.2) (0.012,4.1) (0.017,1.8) (0.022,6.3) (0.025,13.3) (0.032,13.3) (0.036,4.1) (0.041,0.7) (0.049,2.7) (0.054,0.9) (0.060,-2.0) (0.067,-0.7) (0.076,-1.3) (0.089,-2.9) (0.097,-2.0) (0.110,-1.6) (0.124,-0.9) (0.137,-0.2) (0.154,-0.2) (0.172,-0.5) (0.189,-0.5) (0.198,-0.7)};
\addplot[cg] coordinates {(-0.1,0.1) (-0.051,0) (-0.007,0) (-0.001,2.3) (0.006,6.8) (0.011,3.6) (0.014,1.1) (0.019,10.8) (0.021,13.3) (0.028,13.3) (0.032,4.1) (0.035,-1.6) (0.041,0.2) (0.047,0.5) (0.054,-0.7) (0.060,-0.2) (0.067,0.5) (0.076,-0.7) (0.084,-0.2) (0.102,-0.5) (0.124,-0.7) (0.145,-0.2) (0.167,-0.2) (0.198,-0.2)};
\addplot[cb] coordinates {(-0.1,0) (-0.051,0) (-0.007,0) (0.0,2.7) (0.006,5.9) (0.010,1.4) (0.015,-2.7) (0.021,2.7) (0.025,10.8) (0.028,12.6) (0.031,8.6) (0.034,1.8) (0.038,-2.7) (0.043,-4.3) (0.047,-1.8) (0.054,1.8) (0.060,-0.7) (0.067,1.1) (0.073,0.5) (0.082,2.9) (0.089,2.3) (0.095,2.3) (0.102,1.8) (0.111,2.3) (0.119,1.6) (0.128,0.7) (0.137,0.2) (0.145,-0.2) (0.154,0) (0.167,0.2) (0.180,0.4) (0.198,0.5)};
\end{axis}
\end{tikzpicture}
\end{document}
